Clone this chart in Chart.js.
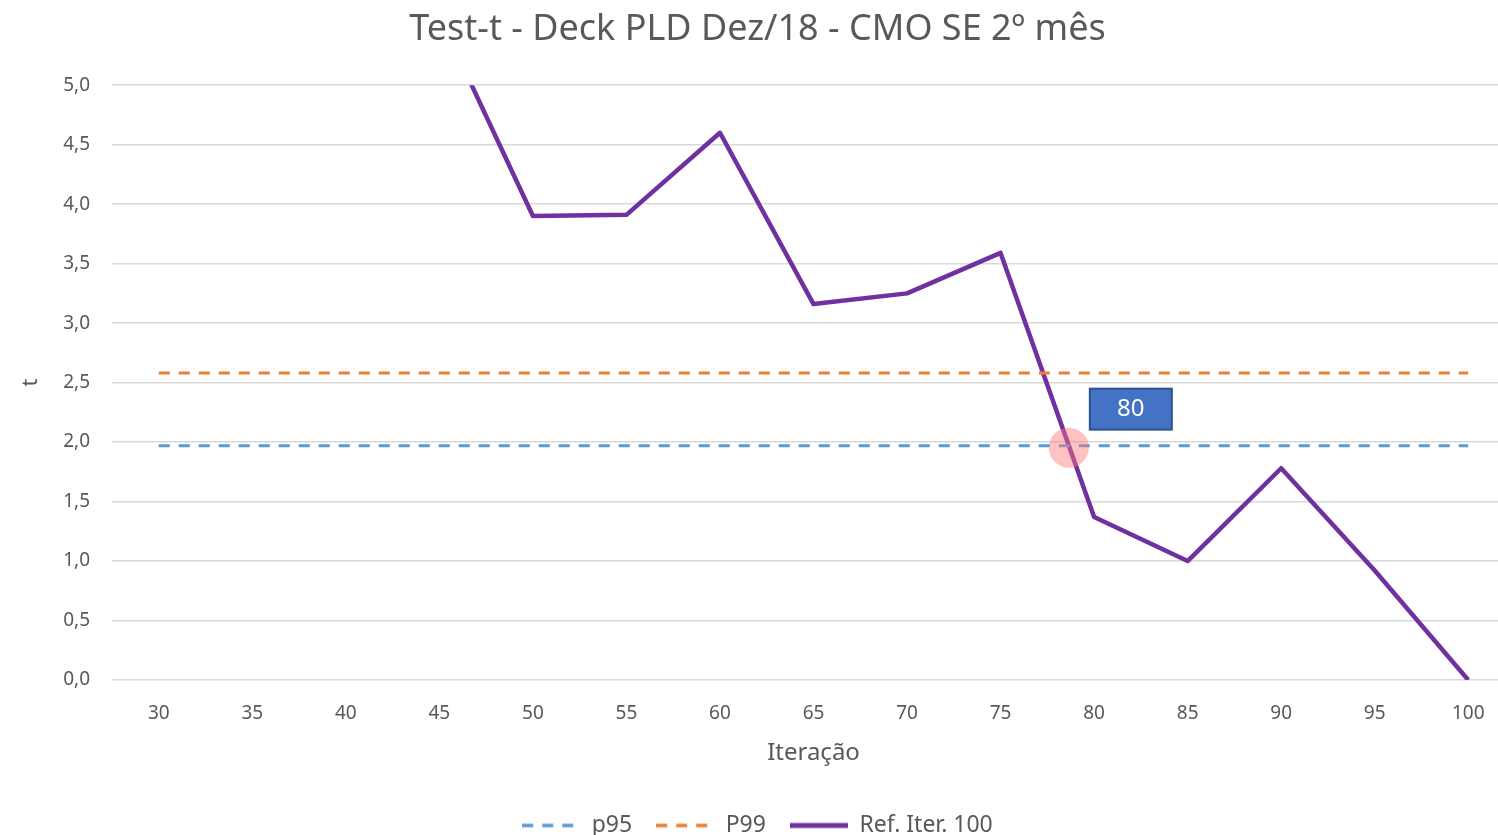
<!DOCTYPE html>
<html>
<head>
<meta charset="utf-8">
<script src="https://cdn.jsdelivr.net/npm/chart.js@4"></script>
<style>
  html, body { margin: 0; padding: 0; overflow: hidden; background: #fff; }
  #caixa { width: 1515px; height: 847px; }
</style>
</head>
<body>
<div id="caixa"><canvas id="grafico" width="1515" height="847"></canvas></div>
<script>
// Dados
const iteracoes = ['30', '35', '40', '45', '50', '55', '60', '65', '70', '75', '80', '85', '90', '95', '100'];
const p95 = [1.97, 1.97, 1.97, 1.97, 1.97, 1.97, 1.97, 1.97, 1.97, 1.97, 1.97, 1.97, 1.97, 1.97, 1.97];
const p99 = [2.58, 2.58, 2.58, 2.58, 2.58, 2.58, 2.58, 2.58, 2.58, 2.58, 2.58, 2.58, 2.58, 2.58, 2.58];
const refIter100 = [7.0, 6.6, 6.2, 5.58, 3.90, 3.91, 4.60, 3.16, 3.25, 3.59, 1.37, 1.00, 1.78, 0.92, 0.00];
const rotuloCruzamento = '80';

const fonte = "'Noto Sans', 'Open Sans', sans-serif";
const cinza = '#595959';

// Linha (tracejada ou não) para a legenda
function iconeLinha(cor, tracejado, espessura) {
    const c = document.createElement('canvas');
    c.width = 58;
    c.height = 8;
    const g = c.getContext('2d');
    g.strokeStyle = cor;
    g.lineWidth = espessura;
    g.setLineDash(tracejado);
    g.beginPath();
    g.moveTo(0, 4);
    g.lineTo(58, 4);
    g.stroke();
    return c;
}

// Círculo + caixa "80" no cruzamento da Ref. com o p95
const marcaCruzamento = {
    id: 'marcaCruzamento',
    afterDatasetsDraw(chart) {
        const sx = chart.scales.x;
        const sy = chart.scales.y;
        const ctx = chart.ctx;
        for (let i = 0; i < refIter100.length - 1; i++) {
            const d0 = refIter100[i] - p95[i];
            const d1 = refIter100[i + 1] - p95[i + 1];
            if (d0 >= 0 && d1 < 0) {
                const t = d0 / (d0 - d1);
                const px = sx.getPixelForValue(i) + t * (sx.getPixelForValue(i + 1) - sx.getPixelForValue(i));
                const py = sy.getPixelForValue(p95[i]) + 2;
                ctx.save();
                ctx.fillStyle = 'rgba(255, 120, 120, 0.45)';
                ctx.beginPath();
                ctx.arc(px, py, 20, 0, Math.PI * 2);
                ctx.fill();
                const bx = px + 21, by = py - 59;
                ctx.fillStyle = '#4472C4';
                ctx.fillRect(bx, by, 82, 41);
                ctx.strokeStyle = '#2F528F';
                ctx.lineWidth = 2;
                ctx.strokeRect(bx, by, 82, 41);
                ctx.fillStyle = '#fff';
                ctx.font = "24px " + fonte;
                ctx.textAlign = 'center';
                ctx.textBaseline = 'middle';
                ctx.fillText(rotuloCruzamento, bx + 41, by + 21);
                ctx.restore();
                break;
            }
        }
    }
};

const ctx = document.getElementById('grafico').getContext('2d');
const chart = new Chart(ctx, {
    type: 'line',
    data: {
        labels: iteracoes,
        datasets: [
            {
                label: 'p95',
                data: p95,
                borderColor: '#5B9BD5',
                borderWidth: 3,
                borderDash: [11, 9],
                pointRadius: 0,
                fill: false,
                tension: 0
            },
            {
                label: 'P99',
                data: p99,
                borderColor: '#ED7D31',
                borderWidth: 3,
                borderDash: [11, 9],
                pointRadius: 0,
                fill: false,
                tension: 0
            },
            {
                label: 'Ref. Iter. 100',
                data: refIter100,
                borderColor: '#7030A0',
                borderWidth: 4.5,
                pointRadius: 0,
                fill: false,
                tension: 0,
                borderJoinStyle: 'round'
            }
        ]
    },
    options: {
        responsive: false,
        animation: false,
        layout: { padding: { left: 0, right: 0, top: 4, bottom: 0 } },
        scales: {
            x: {
                offset: true,
                grid: { display: false },
                border: { display: false },
                ticks: { color: cinza, font: { family: fonte, size: 19 }, padding: 14, maxRotation: 0 },
                title: { display: true, text: 'Iteração', color: cinza, font: { family: fonte, size: 24 }, padding: { top: 6, bottom: 22 } },
                afterFit: s => { s.height = 110; }
            },
            y: {
                min: 0,
                max: 5,
                grid: { color: '#D9D9D9', lineWidth: 1.5, drawTicks: false },
                border: { display: false },
                ticks: {
                    stepSize: 0.5,
                    color: cinza,
                    font: { family: fonte, size: 19 },
                    padding: 22,
                    callback: v => v.toFixed(1).replace('.', ',')
                },
                title: { display: true, text: 't', color: cinza, font: { family: fonte, size: 22 }, padding: { top: 18, bottom: 0 } },
                afterFit: s => { s.width = 112; }
            }
        },
        plugins: {
            title: {
                display: true,
                text: 'Test-t - Deck PLD Dez/18 - CMO SE 2º mês',
                color: cinza,
                font: { family: fonte, size: 36, weight: 'normal' },
                padding: { top: 4, bottom: 34 }
            },
            legend: {
                position: 'bottom',
                labels: {
                    usePointStyle: true,
                    pointStyleWidth: 58,
                    padding: 24,
                    color: cinza,
                    font: { family: fonte, size: 23 },
                    generateLabels: c => c.data.datasets.map((d, i) => ({
                        text: d.label,
                        fontColor: cinza,
                        pointStyle: iconeLinha(d.borderColor, d.borderDash || [], i === 2 ? 5 : 3.5),
                        datasetIndex: i,
                        hidden: false,
                        lineWidth: 0
                    }))
                }
            },
            tooltip: { enabled: false }
        }
    },
    plugins: [marcaCruzamento]
});
</script>
</body>
</html>
